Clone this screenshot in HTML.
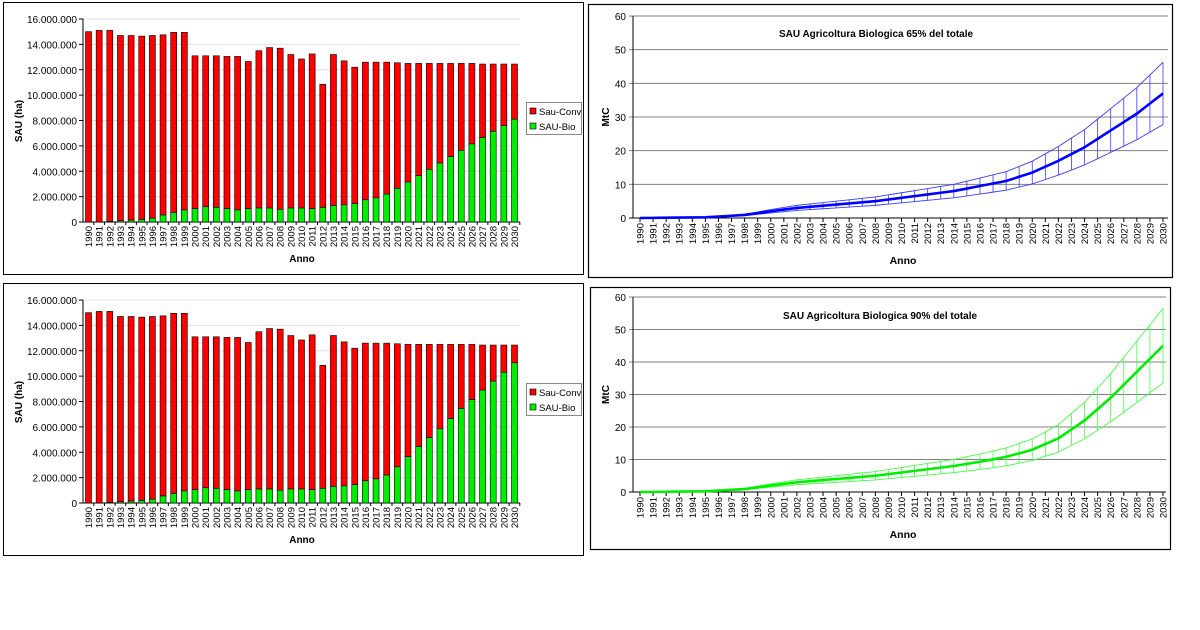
<!DOCTYPE html>
<html><head><meta charset="utf-8">
<style>
html,body{margin:0;padding:0;background:#fff;width:1200px;height:630px;overflow:hidden}
svg{position:absolute;left:0;top:0}
text{font-family:"Liberation Sans",Arial,sans-serif}
</style></head>
<body>
<svg id="s" width="1200" height="630" xmlns="http://www.w3.org/2000/svg"></svg>
<script>
const S=document.getElementById('s');let h='';
const tot=[15.0,15.1,15.1,14.7,14.7,14.65,14.7,14.75,14.95,14.95,13.1,13.1,13.1,13.05,13.05,12.65,13.5,13.75,13.7,13.2,12.85,13.25,10.85,13.2,12.7,12.2,12.6,12.6,12.6,12.55,12.5,12.5,12.5,12.5,12.5,12.5,12.5,12.45,12.45,12.45,12.45];
const gA=[0,0,0.05,0.1,0.15,0.2,0.3,0.55,0.75,0.95,1.05,1.2,1.15,1.05,0.95,1.05,1.1,1.1,1.0,1.1,1.1,1.05,1.15,1.3,1.35,1.45,1.75,1.9,2.2,2.65,3.15,3.65,4.15,4.65,5.15,5.65,6.15,6.65,7.15,7.6,8.1];
const gB=gA.slice(0,29).concat([2.85,3.65,4.45,5.15,5.85,6.65,7.45,8.15,8.9,9.6,10.3,11.05]);
function fmt(n){return n==0?'0':(n/1).toString().replace(/\B(?=(\d{3})+(?!\d))/g,'.')}
function bar(ffy,fy,g){
 h+=`<rect x="3.5" y="${ffy+0.5}" width="580" height="272" fill="#fff" stroke="#000" stroke-width="1"/>`;
 const y0=fy+222,y16=fy+19,sc=(y0-y16)/16;
 for(let i=0;i<=8;i++){let y=y0-i*2*sc;
  if(i>0)h+=`<line x1="83" x2="520" y1="${y}" y2="${y}" stroke="#e0e0e0"/>`;
  h+=`<line x1="79" x2="83" y1="${y}" y2="${y}" stroke="#000"/><text x="77" y="${y+4}" font-size="10" text-anchor="end">${fmt(i*2000000)}</text>`;}
 h+=`<line x1="83" x2="83" y1="${y16}" y2="${y0}" stroke="#000"/><line x1="83" x2="520" y1="${y0}" y2="${y0}" stroke="#000"/>`;
 for(let i=0;i<41;i++){const cx=88.5+i*10.65;const t=tot[i],gg=g[i];
  h+=`<rect x="${cx-3}" y="${y0-t*sc}" width="6" height="${(t-gg)*sc}" fill="#ff0000" stroke="#000" stroke-width="0.6"/>`;
  if(gg>0)h+=`<rect x="${cx-3}" y="${y0-gg*sc}" width="6" height="${gg*sc}" fill="#00ee00" stroke="#000" stroke-width="0.6"/>`;
  h+=`<line x1="${cx+5.3}" x2="${cx+5.3}" y1="${y0}" y2="${y0+3}" stroke="#000"/>`;
  h+=`<text transform="translate(${cx+3.5},${y0+4}) rotate(-90)" font-size="9.5" text-anchor="end">${1990+i}</text>`;}
 h+=`<text x="302" y="${fy+262}" font-size="10" font-weight="bold" text-anchor="middle">Anno</text>`;
 h+=`<text transform="translate(22,${fy+121}) rotate(-90)" font-size="10" font-weight="bold" text-anchor="middle">SAU (ha)</text>`;
 h+=`<rect x="526.5" y="${fy+102.5}" width="55" height="32" fill="#fff" stroke="#888"/>`;
 h+=`<rect x="530" y="${fy+108}" width="6" height="6" fill="#f00" stroke="#000" stroke-width="0.6"/><text x="539" y="${fy+115}" font-size="9.5">Sau-Conv</text>`;
 h+=`<rect x="530" y="${fy+123}" width="6" height="6" fill="#0e0" stroke="#000" stroke-width="0.6"/><text x="539" y="${fy+130}" font-size="9.5">SAU-Bio</text>`;
}
bar(2,0,gA);bar(283,281,gB);
function interp(pts,x){for(let i=0;i<pts.length-1;i++){if(x>=pts[i][0]&&x<=pts[i+1][0]){const t=(x-pts[i][0])/(pts[i+1][0]-pts[i][0]);return pts[i][1]+t*(pts[i+1][1]-pts[i][1]);}}return pts[pts.length-1][1];}
function line(fx,fy,fw,fh,y60,y0,title,tx,ty,col,bcol,pts,up){
 h+=`<rect x="${fx+0.5}" y="${fy+0.5}" width="${fw}" height="${fh}" fill="#fff" stroke="#000" stroke-width="1.2"/>`;
 const ax=633,rx=fx+fw-4,sc=(y0-y60)/60;
 for(let i=0;i<=6;i++){const y=y0-i*10*sc;
  h+=`<line x1="${ax-4}" x2="${i?rx:ax}" y1="${y}" y2="${y}" stroke="${i?'#808080':'#000'}"/><text x="${ax-7}" y="${y+4}" font-size="10" text-anchor="end">${i*10}</text>`;}
 h+=`<line x1="${ax}" x2="${ax}" y1="${y60}" y2="${y0}" stroke="#000"/><line x1="${ax}" x2="${rx}" y1="${y0}" y2="${y0}" stroke="#000"/>`;
 const dx=(1163-640)/40;let m='',u='',l='';
 for(let i=0;i<41;i++){const x=640+i*dx,v=interp(pts,i),f=v*up;
  const ym=y0-v*sc,yu=y0-(v+f)*sc,yl=y0-(v-f)*sc;
  m+=(i?'L':'M')+x+','+ym;u+=(i?'L':'M')+x+','+yu;l+=(i?'L':'M')+x+','+yl;
  if(i>0)h+=`<line x1="${x}" x2="${x}" y1="${yu}" y2="${yl}" stroke="${bcol}" stroke-width="0.8"/>`;
  h+=`<line x1="${x}" x2="${x}" y1="${y0}" y2="${y0+4}" stroke="#000"/>`;
  h+=`<text transform="translate(${x+3.5},${y0+5}) rotate(-90)" font-size="9.5" text-anchor="end">${1990+i}</text>`;}
 h+=`<path d="${u}" fill="none" stroke="${bcol}" stroke-width="0.9"/><path d="${l}" fill="none" stroke="${bcol}" stroke-width="0.9"/><path d="${m}" fill="none" stroke="${col}" stroke-width="2.6"/>`;
 h+=`<text x="${tx}" y="${ty}" font-size="10" font-weight="bold" text-anchor="middle">${title}</text>`;
 h+=`<text x="903" y="${y0+46}" font-size="10.5" font-weight="bold" text-anchor="middle">Anno</text>`;
 h+=`<text transform="translate(609,${(y60+y0)/2}) rotate(-90)" font-size="10" font-weight="bold" text-anchor="middle">MtC</text>`;
}
const pA=[[0,0],[5,0.2],[8,0.9],[10,2],[12,3],[15,4],[18,5],[20,6],[22,7],[24,8],[26,9.5],[28,11],[30,13.5],[32,17],[34,21],[36,26],[38,31],[40,37]];
const pB=[[0,0],[5,0.2],[8,0.9],[10,2],[12,3],[15,4],[18,5],[20,6],[22,7],[24,8],[26,9.3],[28,10.8],[30,13],[32,16.5],[34,22],[36,29],[38,37],[40,45]];
line(588,4,584,273,16,218,'SAU Agricoltura Biologica 65%  del totale',876,37,'#0000ff','#3a3aff',pA,0.25);
line(590,287,580,262,297,492,'SAU Agricoltura Biologica 90%  del totale',880,319,'#00ee00','#44ff44',pB,0.255);
S.innerHTML=h;
</script>
</body></html>
